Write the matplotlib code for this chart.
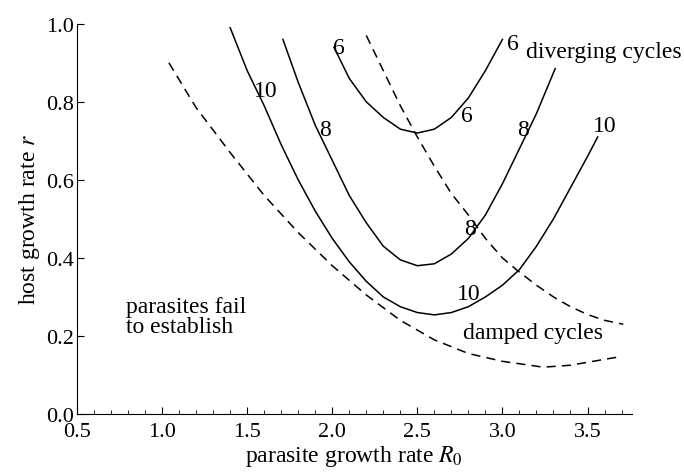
import matplotlib
matplotlib.use("Agg")
import matplotlib.pyplot as plt
from matplotlib.ticker import MultipleLocator

plt.rcParams['font.family'] = ['Liberation Serif', 'DejaVu Serif']
plt.rcParams['mathtext.fontset'] = 'stix'

x6 = [2.01,2.1,2.2,2.3,2.4,2.5,2.6,2.7,2.8,2.9,3.0]
y6 = [0.94,0.86,0.80,0.76,0.73,0.72,0.73,0.76,0.81,0.88,0.96]
x8 = [1.71,1.8,1.9,2.0,2.1,2.2,2.3,2.4,2.5,2.6,2.7,2.8,2.9,3.0,3.1,3.2,3.31]
y8 = [0.96,0.85,0.74,0.65,0.56,0.49,0.43,0.395,0.38,0.385,0.41,0.45,0.51,0.59,0.68,0.77,0.885]
x10 = [1.40,1.5,1.6,1.7,1.8,1.9,2.0,2.1,2.2,2.3,2.4,2.5,2.6,2.7,2.8,2.9,3.0,3.1,3.2,3.3,3.4,3.5,3.56]
y10 = [0.99,0.88,0.79,0.69,0.60,0.52,0.45,0.39,0.34,0.30,0.275,0.26,0.254,0.26,0.275,0.30,0.33,0.37,0.43,0.50,0.58,0.66,0.71]
xlo = [1.04,1.2,1.4,1.6,1.8,2.0,2.2,2.4,2.6,2.8,3.0,3.24,3.4,3.6,3.68]
ylo = [0.90,0.785,0.67,0.56,0.465,0.38,0.305,0.24,0.19,0.155,0.135,0.12,0.125,0.14,0.146]
xup = [2.20,2.3,2.4,2.5,2.6,2.7,2.8,2.86,2.9,3.0,3.09,3.2,3.3,3.4,3.5,3.6,3.71]
yup = [0.97,0.88,0.79,0.71,0.635,0.565,0.51,0.474,0.45,0.40,0.367,0.33,0.30,0.275,0.255,0.24,0.23]

fig = plt.figure(figsize=(6.84, 4.77), dpi=100)
ax = fig.add_axes([0.1126, 0.130, 0.811, 0.818])
for x, y in [(x6, y6), (x8, y8), (x10, y10)]:
    ax.plot(x, y, color='black', lw=1.1, clip_on=False)
for x, y in [(xlo, ylo), (xup, yup)]:
    ax.plot(x, y, color='black', lw=1.1, ls=(0, (6, 4)), clip_on=False)

fs = 17
tfs = 16
labels = [("10", 1.61, 0.83), ("8", 1.96, 0.73), ("6", 2.04, 0.94), ("6", 2.79, 0.765),
          ("6", 3.06, 0.95), ("8", 3.12, 0.73), ("8", 2.81, 0.475), ("10", 2.80, 0.31),
          ("10", 3.6, 0.74)]
for t, x, y in labels:
    ax.text(x, y, t, fontsize=fs, ha='center', va='center')
ax.text(3.14, 0.93, "diverging cycles", fontsize=fs, ha='left', va='center')
ax.text(2.77, 0.21, "damped cycles", fontsize=fs, ha='left', va='center')
ax.text(0.79, 0.25, "parasites fail\nto establish", fontsize=fs, ha='left', va='center', linespacing=0.95)

ax.set_xlim(0.5, 3.76)
ax.set_ylim(0, 1.0)
ax.set_xticks([0.5,1.0,1.5,2.0,2.5,3.0,3.5])
ax.set_yticks([0.0,0.2,0.4,0.6,0.8,1.0])
ax.xaxis.set_minor_locator(MultipleLocator(0.1))
ax.set_xticklabels(["0.5","1.0","1.5","2.0","2.5","3.0","3.5"], fontsize=tfs)
ax.set_yticklabels(["0.0","0.2","0.4","0.6","0.8","1.0"], fontsize=tfs)
ax.spines['top'].set_visible(False)
ax.spines['right'].set_visible(False)
ax.tick_params(which='major', direction='in', length=5)
ax.tick_params(axis='x', which='major', pad=6)
ax.tick_params(axis='y', which='major', pad=2)
ax.tick_params(which='minor', direction='in', length=3)
ax.set_xlabel("parasite growth rate $R_0$", fontsize=fs, labelpad=1)
ax.set_ylabel("host growth rate $r$", fontsize=fs, labelpad=3)
fig.savefig("out.png", dpi=100)
